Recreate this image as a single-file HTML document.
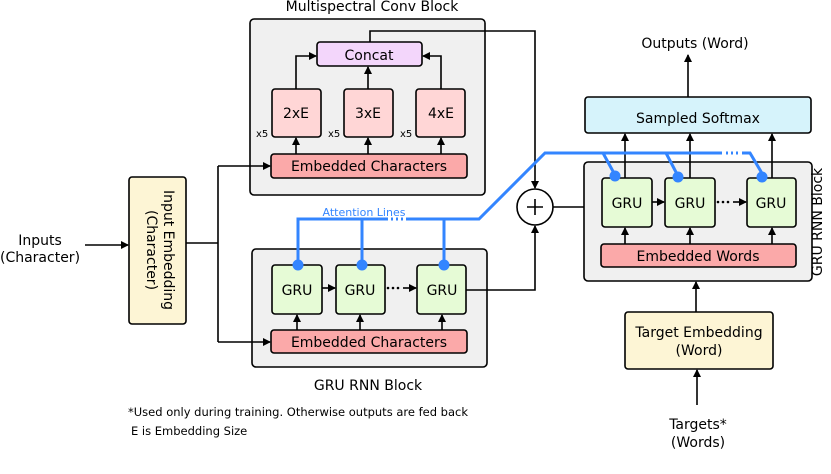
<!DOCTYPE html>
<html><head><meta charset="utf-8"><style>
html,body{margin:0;padding:0;background:#fff;}
svg{display:block;font-family:"DejaVu Sans","Liberation Sans",sans-serif;}
</style></head><body>
<svg width="831" height="474" viewBox="0 0 831 474" xmlns="http://www.w3.org/2000/svg">
<defs>
<marker id="a" markerWidth="8" markerHeight="8" refX="7" refY="4" orient="auto" markerUnits="userSpaceOnUse">
<path d="M0,0 L8,4 L0,8 z" fill="#000"/></marker>
</defs>
<g stroke="#000" stroke-width="1.6">
<rect x="250" y="19" width="235" height="176" rx="4" fill="#f0f0f0"/>
<rect x="252" y="249" width="235" height="118" rx="4" fill="#f0f0f0"/>
<rect x="584" y="162" width="228" height="119" rx="4" fill="#f0f0f0"/>
<rect x="317" y="42" width="105" height="24" rx="3" fill="#f3d6fb"/>
<rect x="272" y="89" width="49" height="48" rx="3" fill="#ffd6d6"/>
<rect x="344" y="89" width="49" height="48" rx="3" fill="#ffd6d6"/>
<rect x="416" y="89" width="49" height="48" rx="3" fill="#ffd6d6"/>
<rect x="271" y="154" width="196" height="24" rx="3" fill="#fba9a9"/>
<rect x="272" y="265" width="50" height="49" rx="3" fill="#e6fbd6"/>
<rect x="336" y="265" width="49" height="49" rx="3" fill="#e6fbd6"/>
<rect x="417" y="265" width="49" height="49" rx="3" fill="#e6fbd6"/>
<rect x="271" y="330" width="196" height="23" rx="3" fill="#fba9a9"/>
<rect x="585" y="97" width="226" height="36" rx="3" fill="#d6f3fb"/>
<rect x="602" y="178" width="50" height="49" rx="3" fill="#e6fbd6"/>
<rect x="665" y="178" width="50" height="49" rx="3" fill="#e6fbd6"/>
<rect x="747" y="178" width="49" height="49" rx="3" fill="#e6fbd6"/>
<rect x="601" y="244" width="195" height="23" rx="3" fill="#fba9a9"/>
<rect x="625" y="312" width="148" height="57" rx="3" fill="#fdf5d5"/>
<rect x="129" y="177" width="57" height="147" rx="3" fill="#fdf5d5"/>
<circle cx="535" cy="207" r="18" fill="#fff"/>
</g>
<g stroke="#000" stroke-width="1.6" fill="none">
<path d="M527,207 h16 M535,199 v16"/>
<path d="M296,89 V56 H316" marker-end="url(#a)"/>
<path d="M441,89 V56 H423" marker-end="url(#a)"/>
<path d="M368,89 V67" marker-end="url(#a)"/>
<path d="M296,154 V138" marker-end="url(#a)"/>
<path d="M368,154 V138" marker-end="url(#a)"/>
<path d="M441,154 V138" marker-end="url(#a)"/>
<path d="M370,42 V31 H535 V188" marker-end="url(#a)"/>
<path d="M85,245 H128" marker-end="url(#a)"/>
<path d="M186,243 H218"/>
<path d="M218,166 V342"/>
<path d="M218,166 H270" marker-end="url(#a)"/>
<path d="M218,342 H270" marker-end="url(#a)"/>
<path d="M297,330 V315" marker-end="url(#a)"/>
<path d="M360,330 V315" marker-end="url(#a)"/>
<path d="M442,330 V315" marker-end="url(#a)"/>
<path d="M322,288 H335" marker-end="url(#a)"/>
<path d="M403,288 H416" marker-end="url(#a)"/>
<path d="M466,290 H535 V226" marker-end="url(#a)"/>
<path d="M553,207 H584"/>
<path d="M652,202 H664" marker-end="url(#a)"/>
<path d="M733,202 H746" marker-end="url(#a)"/>
<path d="M625,244 V228" marker-end="url(#a)"/>
<path d="M690,244 V228" marker-end="url(#a)"/>
<path d="M772,244 V228" marker-end="url(#a)"/>
<path d="M625,178 V134" marker-end="url(#a)"/>
<path d="M690,178 V134" marker-end="url(#a)"/>
<path d="M772,178 V134" marker-end="url(#a)"/>
<path d="M688,97 V55" marker-end="url(#a)"/>
<path d="M696,312 V282" marker-end="url(#a)"/>
<path d="M697,405 V370" marker-end="url(#a)"/>
</g>
<g fill="#000">
<circle cx="388" cy="288" r="1.3"/><circle cx="393" cy="288" r="1.3"/><circle cx="398" cy="288" r="1.3"/>
<circle cx="718" cy="202" r="1.3"/><circle cx="723" cy="202" r="1.3"/><circle cx="728" cy="202" r="1.3"/>
</g>
<g stroke="#3385ff" stroke-width="3" fill="none">
<path d="M298,265 V219 H388 M406,219 H479 L545,153 H722 M742,153 H750 L763,175"/>
<path d="M362,219 V265 M444,219 V265"/>
<path d="M603,153 L615,175 M666,153 L678,176"/>
<path d="M391,219 h2 M396,219 h2 M401,219 h2 M726,153 h2 M731,153 h2 M736,153 h2"/>
</g>
<g fill="#3385ff">
<circle cx="298" cy="265" r="5.5"/><circle cx="362" cy="265" r="5.5"/><circle cx="444" cy="265" r="5.5"/>
<circle cx="615" cy="176" r="5.5"/><circle cx="678" cy="177" r="5.5"/><circle cx="762" cy="177" r="5.5"/>
</g>
<text x="364" y="216" font-size="11" fill="#3385ff" text-anchor="middle">Attention Lines</text>
<g font-size="14" fill="#000" text-anchor="middle">
<text x="372" y="11">Multispectral Conv Block</text>
<text x="369" y="60">Concat</text>
<text x="296" y="118">2xE</text>
<text x="368" y="118">3xE</text>
<text x="441" y="118">4xE</text>
<text x="369" y="171">Embedded Characters</text>
<text x="297" y="295">GRU</text>
<text x="360" y="295">GRU</text>
<text x="442" y="295">GRU</text>
<text x="369" y="347">Embedded Characters</text>
<text x="368" y="390">GRU RNN Block</text>
<text x="627" y="208">GRU</text>
<text x="690" y="208">GRU</text>
<text x="771" y="208">GRU</text>
<text x="698" y="261">Embedded Words</text>
<text x="698" y="123">Sampled Softmax</text>
<text x="695" y="48">Outputs (Word)</text>
<text x="699" y="337">Target Embedding</text>
<text x="699" y="355">(Word)</text>
<text x="698" y="429">Targets*</text>
<text x="698" y="447">(Words)</text>
<text x="40" y="245">Inputs</text>
<text x="40" y="262">(Character)</text>
<text transform="translate(164,250) rotate(90)">Input Embedding</text>
<text transform="translate(147,250) rotate(90)">(Character)</text>
<text transform="translate(822,222) rotate(-90)">GRU RNN Block</text>
</g>
<g font-size="10" fill="#000">
<text x="256" y="137">x5</text><text x="328" y="137">x5</text><text x="400" y="137">x5</text>
</g>
<g font-size="11.5" fill="#000">
<text x="128" y="416">*Used only during training. Otherwise outputs are fed back</text>
<text x="131" y="435">E is Embedding Size</text>
</g>
</svg>
</body></html>
